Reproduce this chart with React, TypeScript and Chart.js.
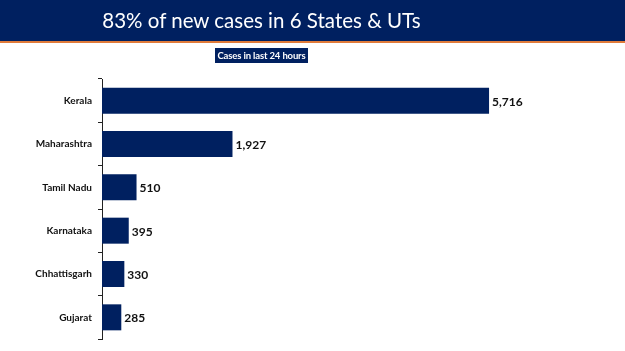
import React, { useEffect, useRef } from "react";
import { Chart, registerables } from "chart.js";

Chart.register(...registerables);

const titleText = "83% of new cases in 6 States & UTs";
const subtitleText = "Cases in last 24 hours";
const states = ["Kerala", "Maharashtra", "Tamil Nadu", "Karnataka", "Chhattisgarh", "Gujarat"];
const newCases = [5716, 1927, 510, 395, 330, 285];
const xMax = 7000;

const NAVY = "#002060";

const valueLabels = {
  id: "valueLabels",
  afterDatasetsDraw(chart: any) {
    const ctx = chart.ctx;
    const meta = chart.getDatasetMeta(0);
    ctx.save();
    ctx.font = "bold 12px Lato";
    ctx.fillStyle = "#111111";
    ctx.textAlign = "left";
    ctx.textBaseline = "middle";
    meta.data.forEach((bar: any, i: number) => {
      const v = chart.data.datasets[0].data[i] as number;
      ctx.fillText(v.toLocaleString("en-US"), bar.x + 3, bar.y + 1);
    });
    ctx.restore();
  },
};

export default function App() {
  const ref = useRef<HTMLCanvasElement>(null);
  useEffect(() => {
    document.body.style.margin = "0";
    const chart = new Chart(ref.current!, {
      type: "bar",
      data: {
        labels: states,
        datasets: [
          {
            data: newCases,
            backgroundColor: NAVY,
            borderWidth: 0,
            barPercentage: 0.6,
            categoryPercentage: 1,
          },
        ],
      },
      options: {
        indexAxis: "y",
        animation: false,
        responsive: false,
        maintainAspectRatio: false,
        layout: { padding: { top: 79, bottom: 9, left: 0, right: 49 } },
        plugins: { legend: { display: false }, tooltip: { enabled: false }, title: { display: false } },
        scales: {
          x: { display: false, min: 0, max: xMax },
          y: {
            afterFit(scale: any) {
              scale.width = 102;
            },
            border: { display: true, color: "#222222", width: 1 },
            grid: { display: true, drawOnChartArea: false, drawTicks: true, tickLength: 4, color: "#222222", offset: true },
            ticks: { color: "#111111", font: { family: "Lato", weight: "bold", size: 10 }, padding: 6 },
          },
        },
      },
      plugins: [valueLabels],
    });
    return () => chart.destroy();
  }, []);

  return (
    <div style={{ position: "relative", width: 625, height: 351, background: "#fff", overflow: "hidden" }}>
      <canvas ref={ref} width={625} height={351} style={{ position: "absolute", left: 0, top: 0 }} />
      <div
        style={{
          position: "absolute",
          left: 0,
          top: 0,
          width: 625,
          height: 41,
          background: NAVY,
          borderBottom: "2px solid #E07B3A",
          color: "#fff",
          fontFamily: "Lato",
          fontSize: 20.5,
          lineHeight: "41px",
          textAlign: "center",
          boxSizing: "content-box",
        }}
      >
        <span style={{ position: "relative", left: -51 }}>{titleText}</span>
      </div>
      <div
        style={{
          position: "absolute",
          left: 215,
          top: 48,
          width: 93,
          height: 15,
          background: NAVY,
          color: "#fff",
          fontFamily: "Lato",
          fontWeight: "bold",
          fontSize: 9.5,
          letterSpacing: -0.15,
          lineHeight: "15px",
          textAlign: "center",
          whiteSpace: "nowrap",
        }}
      >
        {subtitleText}
      </div>
    </div>
  );
}
